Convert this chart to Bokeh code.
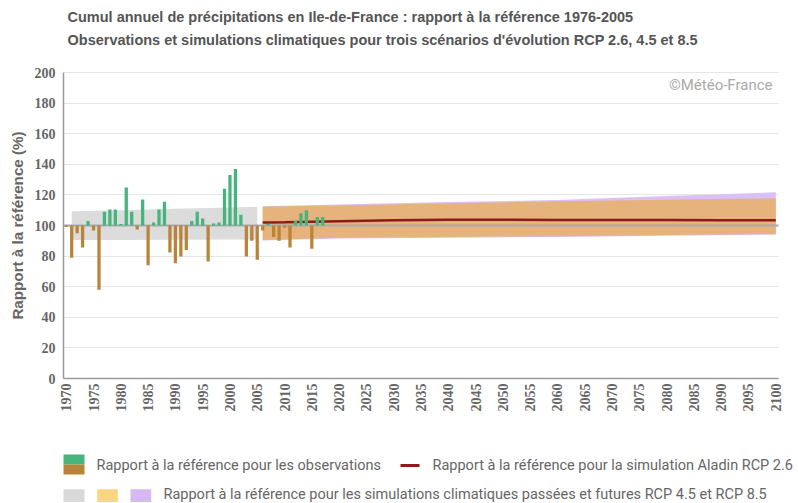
import math
from bokeh.plotting import figure
from bokeh.models import Range1d, FixedTicker
from bokeh.core.properties import value
from bokeh.embed import file_html
from bokeh.resources import INLINE

# ---------------- data ----------------
TITLE1 = "Cumul annuel de précipitations en Ile-de-France : rapport à la référence 1976-2005"
TITLE2 = "Observations et simulations climatiques pour trois scénarios d'évolution RCP 2.6, 4.5 et 8.5"
Y_LABEL = "Rapport à la référence (%)"
COPYRIGHT = "©Météo-France"
LEG_OBS = "Rapport à la référence pour les observations"
LEG_LINE = "Rapport à la référence pour la simulation Aladin RCP 2.6"
LEG_BANDS = "Rapport à la référence pour les simulations climatiques passées et futures RCP 4.5 et RCP 8.5"

REF = 100

obs_years = [1970, 1971, 1972, 1973, 1974, 1975, 1976, 1977, 1978, 1979,
             1980, 1981, 1982, 1983, 1984, 1985, 1986, 1987, 1988, 1989,
             1990, 1991, 1992, 1993, 1994, 1995, 1996, 1997, 1998, 1999,
             2000, 2001, 2002, 2003, 2004, 2005, 2006, 2007, 2008, 2009,
             2010, 2011, 2012, 2013, 2014, 2015, 2016, 2017]
obs_values = [99.0, 79.0, 95.0, 85.7, 103.0, 96.7, 58.0, 109.0, 110.5, 110.5,
              101.0, 124.8, 109.0, 97.4, 117.0, 74.0, 102.0, 110.5, 115.6, 82.4,
              75.4, 79.8, 84.0, 103.0, 109.0, 104.6, 76.5, 101.3, 102.0, 124.0,
              133.0, 137.0, 107.0, 79.8, 90.0, 77.6, 96.7, 101.0, 92.5, 90.0,
              98.5, 85.7, 103.0, 108.0, 110.0, 84.8, 105.5, 105.5]

past_years = [1971, 1980, 1990, 2000, 2005]
past_top = [109.3, 110.0, 110.9, 111.8, 112.3]
past_bot = [90.5, 90.6, 90.7, 90.8, 90.8]

fut_years = [2006, 2020, 2040, 2060, 2080, 2100]
rcp45_top = [112.3, 113.0, 114.5, 115.8, 116.8, 117.8]
rcp45_bot = [90.6, 92.0, 92.5, 93.0, 93.8, 94.6]
rcp85_top = [112.6, 113.8, 115.3, 116.6, 119.2, 121.7]
rcp85_bot = [90.2, 91.5, 92.0, 92.5, 93.3, 94.0]

rcp26_years = [2006, 2010, 2015, 2020, 2030, 2040, 2050, 2060, 2070, 2080, 2090, 2100]
rcp26_values = [102.0, 102.2, 102.5, 102.8, 103.4, 103.8, 103.8, 103.6, 103.6, 103.6, 103.5, 103.5]

x_ticks = [1970, 1975, 1980, 1985, 1990, 1995, 2000, 2005, 2010, 2015, 2020, 2025,
           2030, 2035, 2040, 2045, 2050, 2055, 2060, 2065, 2070, 2075, 2080, 2085,
           2090, 2095, 2100]
y_ticks = [0, 20, 40, 60, 80, 100, 120, 140, 160, 180, 200]

# ---------------- styles ----------------
GREEN = "#45b57d"
BROWN = "#b8843a"
GRAY_BAND = "#dcdcdc"
ORANGE_BAND = "#e5b37b"
PURPLE_BAND = "#d9c0f5"
LEG_GRAY = "#d9d9d9"
LEG_YELLOW = "#f9d67f"
LEG_PURPLE = "#d6b9f1"
RED = "#8b1a1a"

# ---------------- geometry (pixels) ----------------
W, H = 797, 502
OX, OY = 1, 1                     # canvas origin in the picture
x0, x1 = 1969.5, 2100.5           # plotted year span
y0, y1 = 0, 200
PLOT_L, PLOT_R = 64, 779          # picture pixels of x0 / x1
PLOT_T, PLOT_B = 73, 379          # picture pixels of y1 / y0
PXX = (PLOT_R - PLOT_L) / (x1 - x0)
PXY = (PLOT_B - PLOT_T) / (y1 - y0)
xs = x0 - (PLOT_L - OX) / PXX
xe = xs + W / PXX
ye = y1 + (PLOT_T - OY) / PXY
ys = ye - H / PXY


def X(ix):
    return xs + (ix - OX) / PXX


def Y(iy):
    return ye - (iy - OY) / PXY


p = figure(width=W, height=H, x_range=Range1d(xs, xe), y_range=Range1d(ys, ye),
           output_backend="svg", toolbar_location=None,
           min_border=0, min_border_left=0, min_border_right=0,
           min_border_top=0, min_border_bottom=0)
p.outline_line_color = None
p.background_fill_color = "white"
p.border_fill_color = "white"
p.xgrid.visible = False

grid = p.ygrid[0]
grid.grid_line_color = "#e6e6e6"
grid.grid_line_width = 1
if "cross_bounds" in grid.properties():
    grid.cross_bounds = (x0, x1)
else:
    grid.visible = False
    p.segment(x0=[x0] * len(y_ticks), x1=[x1] * len(y_ticks), y0=y_ticks, y1=y_ticks,
              line_color="#e6e6e6", line_width=1, level="underlay")

p.xaxis.ticker = FixedTicker(ticks=x_ticks)
p.yaxis.ticker = FixedTicker(ticks=y_ticks)
p.xaxis.fixed_location = y0
p.yaxis.fixed_location = x0
p.xaxis.bounds = (x0, x1)
p.yaxis.bounds = (y0, y1)
p.xaxis.major_label_orientation = math.pi / 2
for ax in (p.xaxis, p.yaxis):
    ax.major_tick_in = 0
    ax.major_tick_out = 0
    ax.minor_tick_in = 0
    ax.minor_tick_out = 0
    ax.axis_line_color = "#9a9a9a"
    ax.axis_line_width = 1.5
    ax.major_label_text_font = "Liberation Serif"
    ax.major_label_text_font_style = "bold"
    ax.major_label_text_font_size = "14px"
    ax.major_label_text_color = "#666666"
p.xaxis.major_label_standoff = 5
p.yaxis.major_label_standoff = 8
p.yaxis.axis_label = Y_LABEL
p.yaxis.axis_label_text_font = "Liberation Sans"
p.yaxis.axis_label_text_font_style = "bold"
p.yaxis.axis_label_text_font_size = "15.2px"
p.yaxis.axis_label_text_color = "#666666"
p.yaxis.axis_label_standoff = 6

# ---------------- chart marks ----------------
p.varea(x=past_years, y1=past_bot, y2=past_top, fill_color=GRAY_BAND)
p.varea(x=fut_years, y1=rcp85_bot, y2=rcp85_top, fill_color=PURPLE_BAND)
p.varea(x=fut_years, y1=rcp45_bot, y2=rcp45_top, fill_color=ORANGE_BAND)
p.line(x=[x0, x1], y=[REF, REF], line_color="#aaaaaa", line_width=2)
p.line(x=rcp26_years, y=rcp26_values, line_color=RED, line_width=2.5)

bar_colors = [GREEN if v >= REF else BROWN for v in obs_values]
p.vbar(x=obs_years, bottom=REF, top=obs_values, width=0.6, fill_color=bar_colors,
       line_color=None)

# ---------------- texts ----------------
p.text(x=[X(773)], y=[Y(85)], text=[COPYRIGHT], text_align="right", text_baseline="middle",
       text_color="#aaaaaa", text_font_size="15px", text_font=value("Roboto"))

p.text(x=[X(68), X(68)], y=[Y(17), Y(40)], text=[TITLE1, TITLE2],
       text_font=value("Liberation Sans"), text_font_style="bold",
       text_font_size="14.5px", text_color="#555555",
       text_align="left", text_baseline="middle")

# ---------------- legend ----------------
p.quad(left=[X(64)] * 2, right=[X(85)] * 2, top=[Y(455), Y(465)], bottom=[Y(465), Y(475)],
       fill_color=[GREEN, BROWN], line_color=None)
p.line(x=[X(401), X(420)], y=[Y(466), Y(466)], line_color=RED, line_width=3)
p.quad(left=[X(64), X(97.7), X(131)], right=[X(85), X(118.3), X(151.7)],
       top=[Y(489.7)] * 3, bottom=[Y(504)] * 3,
       fill_color=[LEG_GRAY, LEG_YELLOW, LEG_PURPLE], line_color=None)
p.text(x=[X(97), X(433), X(164)], y=[Y(466), Y(466), Y(495)],
       text=[LEG_OBS, LEG_LINE, LEG_BANDS],
       text_font=value("Roboto"), text_font_size="14.5px", text_color="#666666",
       text_align="left", text_baseline="middle")

open("out.html", "w").write(file_html(p, INLINE))
